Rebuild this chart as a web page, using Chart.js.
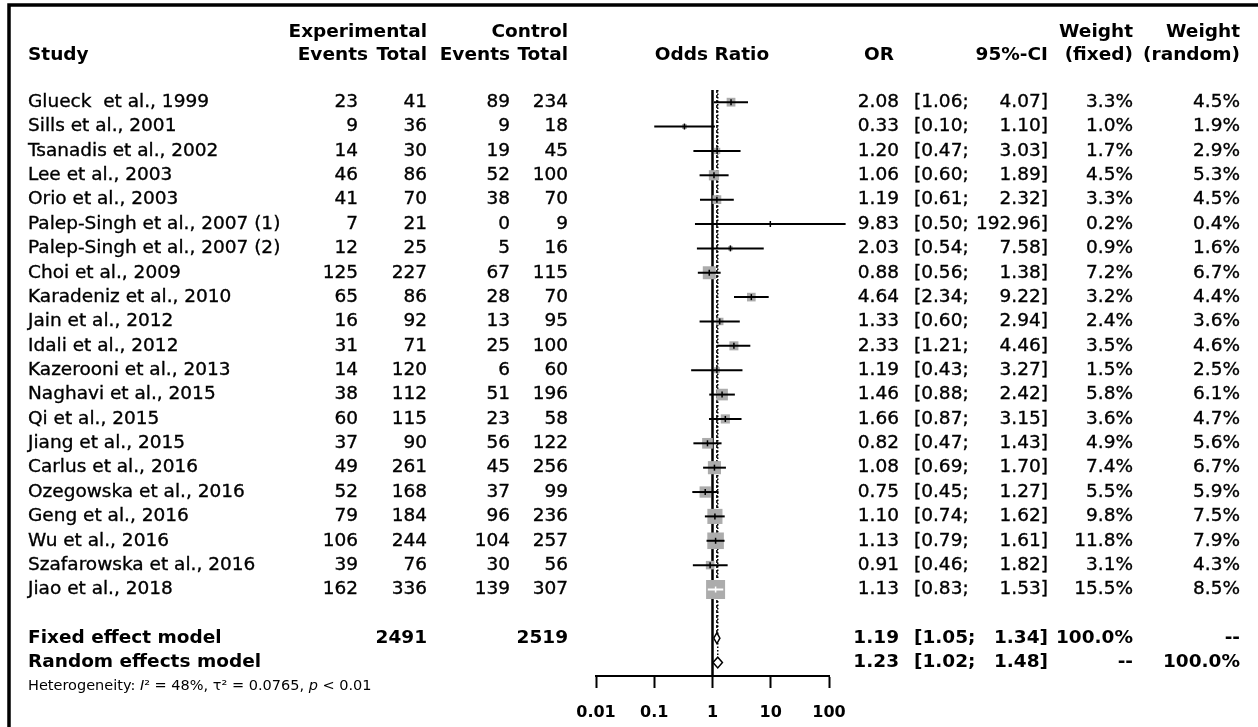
<!DOCTYPE html>
<html>
<head>
<meta charset="utf-8">
<title>Forest plot</title>
<script src="https://cdn.jsdelivr.net/npm/chart.js@4.4.1/dist/chart.umd.min.js"></script>
<style>
  html, body { margin: 0; padding: 0; background: #fff; }
  #wrap { width: 1258px; height: 727px; }
</style>
</head>
<body>
<div id="wrap"><canvas id="forest" width="1258" height="727"></canvas></div>
<script>
'use strict';
/*---------------- study data ----------------*/
const studies = ['Glueck  et al., 1999', 'Sills et al., 2001', 'Tsanadis et al., 2002', 'Lee et al., 2003', 'Orio et al., 2003',
  'Palep-Singh et al., 2007 (1)', 'Palep-Singh et al., 2007 (2)', 'Choi et al., 2009', 'Karadeniz et al., 2010', 'Jain et al., 2012',
  'Idali et al., 2012', 'Kazerooni et al., 2013', 'Naghavi et al., 2015', 'Qi et al., 2015', 'Jiang et al., 2015', 'Carlus et al., 2016',
  'Ozegowska et al., 2016', 'Geng et al., 2016', 'Wu et al., 2016', 'Szafarowska et al., 2016', 'Jiao et al., 2018'];
const expEvents = [23, 9, 14, 46, 41, 7, 12, 125, 65, 16, 31, 14, 38, 60, 37, 49, 52, 79, 106, 39, 162];
const expTotal = [41, 36, 30, 86, 70, 21, 25, 227, 86, 92, 71, 120, 112, 115, 90, 261, 168, 184, 244, 76, 336];
const ctrlEvents = [89, 9, 19, 52, 38, 0, 5, 67, 28, 13, 25, 6, 51, 23, 56, 45, 37, 96, 104, 30, 139];
const ctrlTotal = [234, 18, 45, 100, 70, 9, 16, 115, 70, 95, 100, 60, 196, 58, 122, 256, 99, 236, 257, 56, 307];
const oddsRatio = [2.08, 0.33, 1.20, 1.06, 1.19, 9.83, 2.03, 0.88, 4.64, 1.33, 2.33, 1.19, 1.46, 1.66, 0.82, 1.08, 0.75, 1.10, 1.13, 0.91, 1.13];
const ciLower = [1.06, 0.10, 0.47, 0.60, 0.61, 0.50, 0.54, 0.56, 2.34, 0.60, 1.21, 0.43, 0.88, 0.87, 0.47, 0.69, 0.45, 0.74, 0.79, 0.46, 0.83];
const ciUpper = [4.07, 1.10, 3.03, 1.89, 2.32, 192.96, 7.58, 1.38, 9.22, 2.94, 4.46, 3.27, 2.42, 3.15, 1.43, 1.70, 1.27, 1.62, 1.61, 1.82, 1.53];
const weightFixed = [3.3, 1.0, 1.7, 4.5, 3.3, 0.2, 0.9, 7.2, 3.2, 2.4, 3.5, 1.5, 5.8, 3.6, 4.9, 7.4, 5.5, 9.8, 11.8, 3.1, 15.5];
const weightRandom = [4.5, 1.9, 2.9, 5.3, 4.5, 0.4, 1.6, 6.7, 4.4, 3.6, 4.6, 2.5, 6.1, 4.7, 5.6, 6.7, 5.9, 7.5, 7.9, 4.3, 8.5];
/*---------------- pooled models ----------------*/
const modelNames = ['Fixed effect model', 'Random effects model'];
const modelOR = [1.19, 1.23];
const modelLower = [1.05, 1.02];
const modelUpper = [1.34, 1.48];
const modelWeightFixed = ['100.0%', '--'];
const modelWeightRandom = ['--', '100.0%'];
const pooledTotals = [2491, 2519];
const axisTicks = [0.01, 0.1, 1, 10, 100];

/*---------------- layout ----------------*/
const modelRows = [22, 23];
const hetRow = 23.95;
const fontName = '"DejaVu Sans"';
const fs = 18.5;
const maxSquare = 19; // side in px of the heaviest study

function squareSide(w) {
  return maxSquare * Math.sqrt(w / Math.max(...weightFixed));
}

// CI drawn white when it sits completely inside the square
function ciInside(c, i) {
  const xs = c.chart.scales.x;
  if (!xs || xs.width === 0) return false;
  const half = squareSide(weightFixed[i]) / 2;
  const px = xs.getPixelForValue(oddsRatio[i]);
  return xs.getPixelForValue(ciLower[i]) >= px - half && xs.getPixelForValue(ciUpper[i]) <= px + half;
}

const datasets = [];

// null effect line
datasets.push({ data: [{ x: 1, y: -0.5 }, { x: 1, y: 23.55 }], showLine: true, borderColor: '#000', borderWidth: 2.5, pointRadius: 0, order: 5 });
// fixed effect line (dashed)
datasets.push({ data: [{ x: modelOR[0], y: -0.5 }, { x: modelOR[0], y: modelRows[0] - 0.22 }], showLine: true, borderColor: '#000', borderWidth: 1.5, borderDash: [3, 2], pointRadius: 0, order: 5 });
// random effects line (dotted)
datasets.push({ data: [{ x: modelOR[1], y: -0.5 }, { x: modelOR[1], y: modelRows[1] - 0.22 }], showLine: true, borderColor: '#000', borderWidth: 1.5, borderDash: [1.5, 2], pointRadius: 0, order: 5 });

// study squares
datasets.push({
  data: oddsRatio.map((v, i) => ({ x: v, y: i })),
  pointStyle: 'rect',
  pointRadius: c => squareSide(weightFixed[c.dataIndex]) / Math.SQRT2,
  backgroundColor: '#acacac',
  borderWidth: 0,
  order: 4
});

// confidence intervals
for (let i = 0; i < studies.length; i++) {
  datasets.push({
    data: [{ x: ciLower[i], y: i }, { x: ciUpper[i], y: i }],
    showLine: true,
    borderColor: c => ciInside(c, i) ? '#fff' : '#000',
    borderWidth: 2,
    pointRadius: 0,
    order: 3
  });
}

// small tick on each point estimate
datasets.push({
  data: oddsRatio.map((v, i) => ({ x: v, y: i })),
  pointStyle: 'line',
  rotation: 90,
  pointRadius: 3,
  borderWidth: 1.5,
  borderColor: c => ciInside(c, c.dataIndex) ? '#fff' : '#000',
  order: 2
});

// pooled diamonds
for (let k = 0; k < modelOR.length; k++) {
  const y = modelRows[k];
  datasets.push({
    data: [{ x: modelLower[k], y: y }, { x: modelOR[k], y: y - 0.22 }, { x: modelUpper[k], y: y }, { x: modelOR[k], y: y + 0.22 }, { x: modelLower[k], y: y }],
    showLine: true,
    fill: 'shape',
    backgroundColor: '#fff',
    borderColor: '#000',
    borderWidth: 1.5,
    pointRadius: 0,
    order: 1
  });
}

/*---------------- table text ----------------*/
function put(ctx, s, x, y, align, bold, size) {
  ctx.font = (bold ? 'bold ' : '') + (size || fs) + 'px ' + fontName;
  ctx.textAlign = align;
  ctx.fillText(s, x, y);
  if (!bold) ctx.strokeText(s, x, y); // the plain text is a little heavy
}

// "[lo;" and "hi]" are placed separately so the brackets line up
function putCI(ctx, lo, hi, y, bold) {
  put(ctx, '[' + lo.toFixed(2) + ';', 914, y, 'left', bold);
  put(ctx, hi.toFixed(2) + ']', 1048, y, 'right', bold);
}

const tablePlugin = {
  id: 'tableText',
  beforeDraw(chart) {
    const ctx = chart.ctx;
    ctx.save();
    ctx.fillStyle = '#fff';
    ctx.fillRect(0, 0, chart.width, chart.height);
    // frame
    ctx.strokeStyle = '#000';
    ctx.lineWidth = 3.5;
    ctx.beginPath();
    ctx.moveTo(9, chart.height);
    ctx.lineTo(9, 5);
    ctx.lineTo(chart.width, 5);
    ctx.stroke();
    ctx.restore();
  },
  afterDraw(chart) {
    const ctx = chart.ctx;
    const ys = chart.scales.y;
    ctx.save();
    ctx.fillStyle = '#000';
    ctx.strokeStyle = '#000';
    ctx.lineWidth = 0.35;
    ctx.textBaseline = 'middle';

    // headers
    const h1 = 32, h2 = 55;
    put(ctx, 'Study', 28, h2, 'left', true);
    put(ctx, 'Experimental', 427, h1, 'right', true);
    put(ctx, 'Events', 368, h2, 'right', true);
    put(ctx, 'Total', 427, h2, 'right', true);
    put(ctx, 'Control', 568, h1, 'right', true);
    put(ctx, 'Events', 510, h2, 'right', true);
    put(ctx, 'Total', 568, h2, 'right', true);
    put(ctx, 'Odds Ratio', 712, h2, 'center', true);
    put(ctx, 'OR', 879, h2, 'center', true);
    put(ctx, '95%-CI', 1048, h2, 'right', true);
    put(ctx, 'Weight', 1133, h1, 'right', true);
    put(ctx, '(fixed)', 1133, h2, 'right', true);
    put(ctx, 'Weight', 1240, h1, 'right', true);
    put(ctx, '(random)', 1240, h2, 'right', true);

    // study rows
    for (let i = 0; i < studies.length; i++) {
      const y = ys.getPixelForValue(i);
      put(ctx, studies[i], 28, y, 'left', false);
      put(ctx, String(expEvents[i]), 358, y, 'right', false);
      put(ctx, String(expTotal[i]), 427, y, 'right', false);
      put(ctx, String(ctrlEvents[i]), 510, y, 'right', false);
      put(ctx, String(ctrlTotal[i]), 568, y, 'right', false);
      put(ctx, oddsRatio[i].toFixed(2), 899, y, 'right', false);
      putCI(ctx, ciLower[i], ciUpper[i], y, false);
      put(ctx, weightFixed[i].toFixed(1) + '%', 1133, y, 'right', false);
      put(ctx, weightRandom[i].toFixed(1) + '%', 1240, y, 'right', false);
    }

    // pooled rows
    for (let k = 0; k < modelNames.length; k++) {
      const y = ys.getPixelForValue(modelRows[k]);
      put(ctx, modelNames[k], 28, y, 'left', true);
      if (k === 0) {
        put(ctx, String(pooledTotals[0]), 427, y, 'right', true);
        put(ctx, String(pooledTotals[1]), 568, y, 'right', true);
      }
      put(ctx, modelOR[k].toFixed(2), 899, y, 'right', true);
      putCI(ctx, modelLower[k], modelUpper[k], y, true);
      put(ctx, modelWeightFixed[k], 1133, y, 'right', true);
      put(ctx, modelWeightRandom[k], 1240, y, 'right', true);
    }

    // heterogeneity line, with italic I and p
    const hy = ys.getPixelForValue(hetRow);
    const parts = [['Heterogeneity: ', ''], ['I', 'italic '], ['\u00b2 = 48%, \u03c4\u00b2 = 0.0765, ', ''], ['p', 'italic '], [' < 0.01', '']];
    let x = 28;
    ctx.textAlign = 'left';
    for (const [s, style] of parts) {
      ctx.font = style + '14.5px ' + fontName;
      ctx.fillText(s, x, hy);
      x += ctx.measureText(s).width;
    }
    ctx.restore();
  }
};

/*---------------- chart ----------------*/
const chart = new Chart(document.getElementById('forest'), {
  type: 'scatter',
  data: { datasets: datasets },
  options: {
    responsive: false,
    animation: false,
    devicePixelRatio: 1,
    clip: false,
    layout: { padding: { left: 596, right: 429, top: 90, bottom: 0 } },
    plugins: { legend: { display: false }, tooltip: { enabled: false } },
    scales: {
      x: {
        type: 'logarithmic',
        position: 'bottom',
        min: 0.01,
        max: 100,
        afterBuildTicks: s => { s.ticks = axisTicks.map(v => ({ value: v })); },
        afterFit: s => { s.height = 51; },
        border: { display: true, color: '#000', width: 2 },
        grid: { drawOnChartArea: false, drawTicks: true, tickLength: 12, tickWidth: 2, tickColor: '#000' },
        ticks: {
          autoSkip: false,
          maxRotation: 0,
          padding: 15,
          color: '#000',
          font: { family: 'DejaVu Sans', size: 16, weight: 'bold' },
          callback: v => String(v)
        }
      },
      y: { type: 'linear', min: -0.5, max: 23.55, reverse: true, display: false }
    }
  },
  plugins: [tablePlugin]
});
</script>
</body>
</html>
